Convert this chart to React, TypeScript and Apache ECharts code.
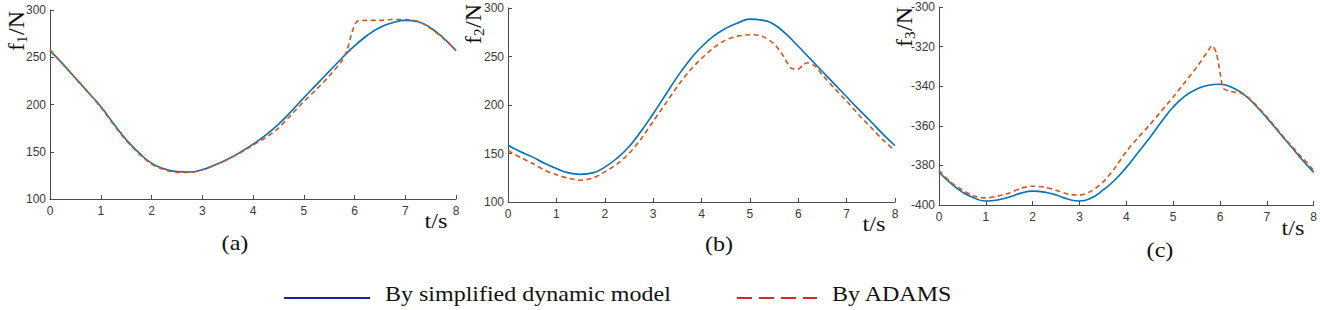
import React, { useEffect, useRef } from "react";
import * as echarts from "echarts";

// ---- Data ----
const tA = [0, 0.25, 0.5, 0.75, 1, 1.25, 1.5, 1.75, 2, 2.25, 2.5, 2.75, 3, 3.25, 3.5, 3.75, 4, 4.25, 4.5, 4.75, 5, 5.25, 5.5, 5.75, 6, 6.25, 6.5, 6.75, 7, 7.25, 7.5, 7.75, 8];
const f1Model = [257, 243, 228, 213, 198, 180, 163, 149, 138, 132, 129, 128.5, 131, 136, 142, 149.5, 158, 167.5, 179, 192.5, 207, 221, 235, 249, 262, 273, 281.5, 286.5, 289, 287.5, 281, 270.5, 257];
const tA2 = [0, 0.25, 0.5, 0.75, 1, 1.25, 1.5, 1.75, 2, 2.25, 2.5, 2.75, 3, 3.25, 3.5, 3.75, 4, 4.25, 4.5, 4.75, 5, 5.25, 5.5, 5.75, 5.85, 5.95, 6.05, 6.25, 6.5, 6.75, 7, 7.25, 7.5, 7.75, 8];
const f1Adams = [258, 243, 228, 213, 197, 179, 162, 148, 137, 131, 128, 128, 131, 136, 142, 149, 157, 165, 175, 189, 203, 216, 230, 246, 257, 276, 288, 289, 289, 290, 290, 288, 280.5, 270, 257];

const tB = [0, 0.25, 0.5, 0.75, 1, 1.25, 1.5, 1.75, 2, 2.25, 2.5, 2.75, 3, 3.25, 3.5, 3.75, 4, 4.25, 4.5, 4.75, 5, 5.25, 5.5, 5.75, 6, 6.25, 6.5, 6.75, 7, 7.25, 7.5, 7.75, 8];
const f2Model = [158.5, 152, 146.5, 140, 134.5, 130, 128.5, 130, 136, 145, 157, 173, 191, 210, 229, 246, 260, 271, 279, 284.5, 288.5, 287.5, 283, 273, 260.5, 247.5, 234.5, 221.5, 208.5, 195.5, 183, 170, 158];
const tB2 = [0, 0.25, 0.5, 0.75, 1, 1.25, 1.5, 1.75, 2, 2.25, 2.5, 2.75, 3, 3.25, 3.5, 3.75, 4, 4.25, 4.5, 4.75, 5, 5.25, 5.5, 5.7, 5.85, 6, 6.1, 6.2, 6.35, 6.5, 6.75, 7, 7.25, 7.5, 7.75, 8];
const f2Adams = [153, 146, 140, 133, 128, 124.5, 122.5, 124.5, 131, 139, 150, 165, 183, 201, 219, 235, 248, 259, 267, 271, 272.5, 271, 263, 250, 238, 237, 241.5, 243.5, 240, 231, 217, 204, 190, 177, 164, 153];

const tC = [0, 0.25, 0.5, 0.75, 1, 1.25, 1.5, 1.75, 2, 2.25, 2.5, 2.75, 3, 3.25, 3.5, 3.75, 4, 4.25, 4.5, 4.75, 5, 5.25, 5.5, 5.75, 6, 6.25, 6.5, 6.75, 7, 7.25, 7.5, 7.75, 8];
const f3Model = [-383.3, -389, -393.5, -396.5, -398, -397.5, -396, -394, -393, -393.5, -395, -397, -398, -396.5, -392.5, -387.5, -381, -373.5, -366, -358, -350.5, -345, -341.5, -339.5, -339, -340.5, -344, -349.5, -356, -363, -370, -377, -383.5];
const tC2 = [0, 0.25, 0.5, 0.75, 1, 1.25, 1.5, 1.75, 2, 2.25, 2.5, 2.75, 3, 3.25, 3.5, 3.75, 4, 4.25, 4.5, 4.75, 5, 5.25, 5.5, 5.75, 5.83, 5.92, 6.0, 6.07, 6.2, 6.5, 6.75, 7, 7.25, 7.5, 7.75, 8];
const f3Adams = [-382.5, -388.5, -392.5, -395.5, -396.5, -395.5, -394, -391.5, -390.5, -391, -392.5, -394.5, -395, -393, -388.5, -381.5, -373, -366, -359.5, -352.5, -345.5, -338, -330.5, -322, -319.5, -323, -333, -341, -342.5, -344, -349, -355.5, -362.5, -369.5, -376, -382.5];

const xTicks = { min: 0, max: 8, interval: 1 };
const yRanges = [
  { min: 100, max: 300, interval: 50 },
  { min: 100, max: 300, interval: 50 },
  { min: -400, max: -300, interval: 20 },
];
const panelLetters = ["(a)", "(b)", "(c)"];
const ySubs = ["1", "2", "3"];
const legendNames = ["By simplified dynamic model", "By ADAMS"];

const pairs = (t: number[], v: number[]) => t.map((x, i) => [x, v[i]]);

const BLUE = "#0072BD";
const ORANGE = "#D95319";
const AXIS = "#4a4a4a";
const SERIF = "'Liberation Serif', 'Times New Roman', serif";
const SANS = "'Liberation Sans', Arial, sans-serif";

const grids = [
  { left: 50, top: 10, width: 406, height: 189 },
  { left: 508, top: 8, width: 387, height: 194 },
  { left: 939, top: 7, width: 376, height: 198 },
];
const yLabelPos = [
  [16, 31],
  [473, 24],
  [904, 27],
];
const tsPos = [
  [436, 221],
  [874, 224],
  [1293, 228],
];
const letterPos = [
  [235, 243],
  [719, 244],
  [1160, 250],
];

export default function App() {
  const ref = useRef<HTMLDivElement>(null);
  useEffect(() => {
    if (!ref.current) return;
    const chart = echarts.init(ref.current, undefined, { renderer: "svg" });

    const xAxis = grids.map((_, i) => ({
      type: "value",
      gridIndex: i,
      ...xTicks,
      axisLine: { show: true, lineStyle: { color: AXIS, width: 1 } },
      axisTick: { show: true, inside: true, length: 4, lineStyle: { color: AXIS } },
      axisLabel: { color: "#3a3a3a", fontFamily: SANS, fontSize: 12, margin: 6 },
      splitLine: { show: false },
    }));
    const yAxis = grids.map((_, i) => ({
      type: "value",
      gridIndex: i,
      ...yRanges[i],
      axisLine: { show: true, lineStyle: { color: AXIS, width: 1 } },
      axisTick: { show: true, inside: true, length: 4, lineStyle: { color: AXIS } },
      axisLabel: { color: "#3a3a3a", fontFamily: SANS, fontSize: 12, margin: 4 },
      splitLine: { show: false },
    }));

    const mk = (i: number, data: number[][], dashed: boolean) => ({
      type: "line",
      xAxisIndex: i,
      yAxisIndex: i,
      data,
      showSymbol: false,
      smooth: dashed ? 0.25 : true,
      lineStyle: dashed
        ? { color: ORANGE, width: 1.6, type: [5, 3.5] }
        : { color: BLUE, width: 1.6 },
      z: dashed ? 3 : 2,
    });

    const series = [
      mk(0, pairs(tA, f1Model), false),
      mk(0, pairs(tA2, f1Adams), true),
      mk(1, pairs(tB, f2Model), false),
      mk(1, pairs(tB2, f2Adams), true),
      mk(2, pairs(tC, f3Model), false),
      mk(2, pairs(tC2, f3Adams), true),
    ];

    const graphics: any[] = [];
    for (let i = 0; i < 3; i++) {
      const [cx, cy] = yLabelPos[i];
      graphics.push({
        type: "group",
        x: cx,
        y: cy,
        rotation: Math.PI / 2,
        children: [
          { type: "text", x: -20, y: 0, style: { text: "f", font: `24px ${SERIF}`, fill: "#111", verticalAlign: "middle", align: "left" } },
          { type: "text", x: -12, y: 6, style: { text: ySubs[i], font: `15px ${SERIF}`, fill: "#111", verticalAlign: "middle", align: "left" } },
          { type: "text", x: -4, y: 0, style: { text: "/N", font: `24px ${SERIF}`, fill: "#111", verticalAlign: "middle", align: "left" } },
        ],
      });
      graphics.push({
        type: "text",
        x: tsPos[i][0],
        y: tsPos[i][1],
        scaleX: 1.15,
        style: { text: "t/s", font: `21px ${SERIF}`, fill: "#111", align: "center", verticalAlign: "middle" },
      });
      graphics.push({
        type: "text",
        x: letterPos[i][0],
        y: letterPos[i][1],
        scaleX: 1.15,
        style: { text: panelLetters[i], font: `21px ${SERIF}`, fill: "#111", align: "center", verticalAlign: "middle" },
      });
    }
    // legend
    graphics.push({
      type: "line",
      shape: { x1: 284, y1: 298, x2: 370, y2: 298 },
      style: { stroke: "#1f1fa0", lineWidth: 2 },
    });
    graphics.push({
      type: "text",
      x: 385,
      y: 294,
      scaleX: 1.2,
      style: { text: legendNames[0], font: `20px ${SERIF}`, fill: "#111", align: "left", verticalAlign: "middle" },
    });
    graphics.push({
      type: "line",
      shape: { x1: 737, y1: 298, x2: 817, y2: 298 },
      style: { stroke: "#d42a2a", lineWidth: 2, lineDash: [15, 7] },
    });
    graphics.push({
      type: "text",
      x: 832,
      y: 294,
      scaleX: 1.2,
      style: { text: legendNames[1], font: `20px ${SERIF}`, fill: "#111", align: "left", verticalAlign: "middle" },
    });

    chart.setOption({
      animation: false,
      backgroundColor: "#fff",
      grid: grids.map((g) => ({ ...g, containLabel: false })),
      xAxis,
      yAxis,
      series,
      graphic: graphics,
    });
    return () => chart.dispose();
  }, []);
  return (
    <div
      ref={ref}
      style={{ position: "absolute", left: 0, top: 0, width: 1320, height: 310 }}
    />
  );
}
